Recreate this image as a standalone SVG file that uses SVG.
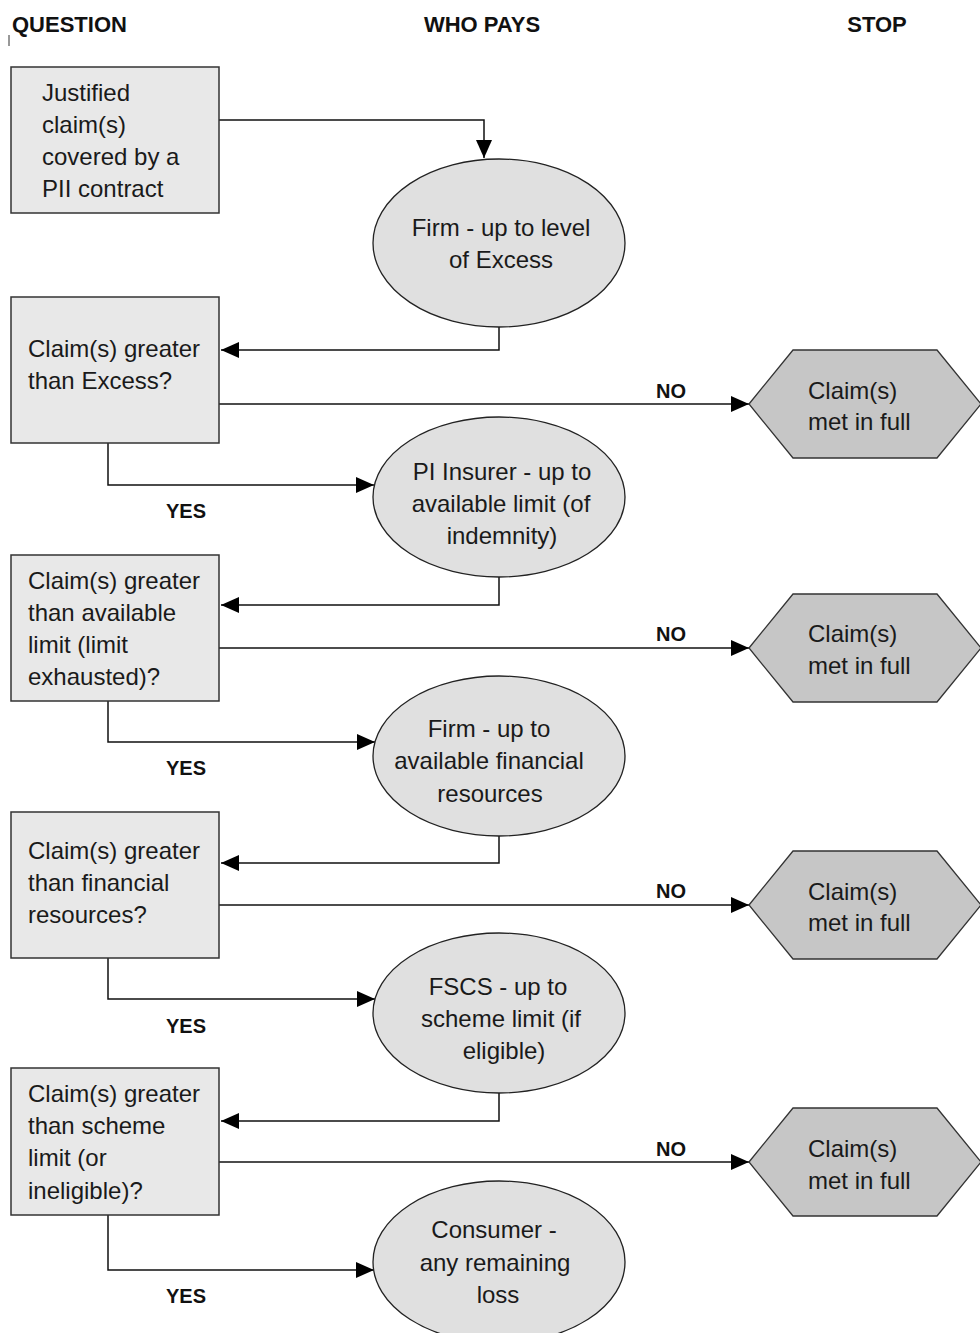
<svg xmlns="http://www.w3.org/2000/svg" width="980" height="1333" viewBox="0 0 980 1333">
<defs>
<marker id="arr" viewBox="0 0 18 16" refX="18" refY="8" markerWidth="18" markerHeight="16" markerUnits="userSpaceOnUse" orient="auto">
<path d="M0,0 L18,8 L0,16 z" fill="#000"/>
</marker>
<style>
.box{fill:#e8e8e8;stroke:#333;stroke-width:1.5}
.ell{fill:#e0e0e0;stroke:#222;stroke-width:1.3}
.hex{fill:#c6c6c6;stroke:#333;stroke-width:1.3}
.t{font-family:"Liberation Sans",Arial,sans-serif;font-size:24px;fill:#1a1a1a}
.m{text-anchor:middle}
.h{font-family:"Liberation Sans",Arial,sans-serif;font-size:22px;font-weight:bold;fill:#111}
.lb{font-family:"Liberation Sans",Arial,sans-serif;font-size:20px;font-weight:bold;fill:#111}
.c{fill:none;stroke:#111;stroke-width:1.5}
</style>
</defs>
<rect width="980" height="1333" fill="#fff"/>
<g id="headers">
<text class="h" x="12" y="32">QUESTION</text>
<text class="h m" x="482" y="32">WHO PAYS</text>
<text class="h m" x="877" y="32">STOP</text>
<line x1="9" y1="35" x2="9" y2="46" stroke="#333" stroke-width="1"/>
</g>
<g id="connectors">
<path class="c" d="M219,120 H484 V158" marker-end="url(#arr)"/>
<path class="c" d="M499,327 V350 H221" marker-end="url(#arr)"/>
<path class="c" d="M219,404 H749" marker-end="url(#arr)"/>
<path class="c" d="M108,443 V485 H374" marker-end="url(#arr)"/>
<path class="c" d="M499,577 V605 H221" marker-end="url(#arr)"/>
<path class="c" d="M219,648 H749" marker-end="url(#arr)"/>
<path class="c" d="M108,701 V742 H375" marker-end="url(#arr)"/>
<path class="c" d="M499,836 V863 H221" marker-end="url(#arr)"/>
<path class="c" d="M219,905 H749" marker-end="url(#arr)"/>
<path class="c" d="M108,958 V999 H375" marker-end="url(#arr)"/>
<path class="c" d="M499,1093 V1121 H221" marker-end="url(#arr)"/>
<path class="c" d="M219,1162 H749" marker-end="url(#arr)"/>
<path class="c" d="M108,1215 V1270 H374" marker-end="url(#arr)"/>
<text class="lb" x="656" y="398">NO</text>
<text class="lb" x="656" y="641">NO</text>
<text class="lb" x="656" y="898">NO</text>
<text class="lb" x="656" y="1156">NO</text>
<text class="lb m" x="186" y="518">YES</text>
<text class="lb m" x="186" y="775">YES</text>
<text class="lb m" x="186" y="1033">YES</text>
<text class="lb m" x="186" y="1303">YES</text>
</g>
<g id="q1">
<rect class="box" x="11" y="67" width="208" height="146"/>
<text class="t" x="42" y="101">Justified</text>
<text class="t" x="42" y="133">claim(s)</text>
<text class="t" x="42" y="165">covered by a</text>
<text class="t" x="42" y="197">PII contract</text>
</g>
<g id="p1">
<ellipse class="ell" cx="499" cy="243" rx="126" ry="84"/>
<text class="t m" x="501" y="236">Firm - up to level</text>
<text class="t m" x="501" y="268">of Excess</text>
</g>
<g id="q2">
<rect class="box" x="11" y="297" width="208" height="146"/>
<text class="t" x="28" y="357">Claim(s) greater</text>
<text class="t" x="28" y="389">than Excess?</text>
</g>
<g id="s1">
<polygon class="hex" points="749,404 793,350 937,350 981,404 937,458 793,458"/>
<text class="t" x="808" y="399">Claim(s)</text>
<text class="t" x="808" y="430">met in full</text>
</g>
<g id="p2">
<ellipse class="ell" cx="499" cy="497" rx="126" ry="80"/>
<text class="t m" x="502" y="480">PI Insurer - up to</text>
<text class="t m" x="501" y="512">available limit (of</text>
<text class="t m" x="502" y="544">indemnity)</text>
</g>
<g id="q3">
<rect class="box" x="11" y="555" width="208" height="146"/>
<text class="t" x="28" y="589">Claim(s) greater</text>
<text class="t" x="28" y="621">than available</text>
<text class="t" x="28" y="653">limit (limit</text>
<text class="t" x="28" y="685">exhausted)?</text>
</g>
<g id="s2">
<polygon class="hex" points="749,648 793,594 937,594 981,648 937,702 793,702"/>
<text class="t" x="808" y="642">Claim(s)</text>
<text class="t" x="808" y="674">met in full</text>
</g>
<g id="p3">
<ellipse class="ell" cx="499" cy="756" rx="126" ry="80"/>
<text class="t m" x="489" y="737">Firm - up to</text>
<text class="t m" x="489" y="769">available financial</text>
<text class="t m" x="490" y="802">resources</text>
</g>
<g id="q4">
<rect class="box" x="11" y="812" width="208" height="146"/>
<text class="t" x="28" y="859">Claim(s) greater</text>
<text class="t" x="28" y="891">than financial</text>
<text class="t" x="28" y="923">resources?</text>
</g>
<g id="s3">
<polygon class="hex" points="749,905 793,851 937,851 981,905 937,959 793,959"/>
<text class="t" x="808" y="900">Claim(s)</text>
<text class="t" x="808" y="931">met in full</text>
</g>
<g id="p4">
<ellipse class="ell" cx="499" cy="1013" rx="126" ry="80"/>
<text class="t m" x="498" y="995">FSCS - up to</text>
<text class="t m" x="501" y="1027">scheme limit (if</text>
<text class="t m" x="504" y="1059">eligible)</text>
</g>
<g id="q5">
<rect class="box" x="11" y="1068" width="208" height="147"/>
<text class="t" x="28" y="1102">Claim(s) greater</text>
<text class="t" x="28" y="1134">than scheme</text>
<text class="t" x="28" y="1166">limit (or</text>
<text class="t" x="28" y="1199">ineligible)?</text>
</g>
<g id="s4">
<polygon class="hex" points="749,1162 793,1108 937,1108 981,1162 937,1216 793,1216"/>
<text class="t" x="808" y="1157">Claim(s)</text>
<text class="t" x="808" y="1189">met in full</text>
</g>
<g id="p5">
<ellipse class="ell" cx="499" cy="1262" rx="126" ry="81"/>
<text class="t m" x="494" y="1238">Consumer -</text>
<text class="t m" x="495" y="1271">any remaining</text>
<text class="t m" x="498" y="1303">loss</text>
</g>
</svg>
